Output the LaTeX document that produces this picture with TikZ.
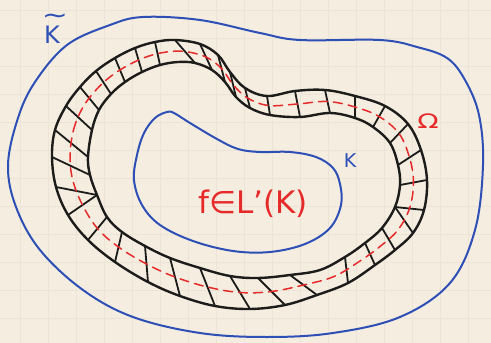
\documentclass[tikz,border=0pt]{standalone}
\usepackage{fontspec}
\setmainfont{DejaVu Sans}
\usetikzlibrary{calc}
\definecolor{paper}{HTML}{F4EDE0}
\definecolor{penblue}{HTML}{2E4FB5}
\definecolor{penred}{HTML}{E62A2A}
\definecolor{penblack}{HTML}{1C1C1A}
\definecolor{gridc}{HTML}{ECE4D6}
\begin{document}
\begin{tikzpicture}[x=1pt,y=-1pt,
  bluepen/.style={draw=penblue,line width=2pt,line join=round},
  blackpen/.style={draw=penblack,line width=2.4pt,line join=round},
  redpen/.style={draw=penred,line width=1.5pt,dash pattern=on 9pt off 6pt,line cap=round},
  hatchpen/.style={draw=penblack,line width=1.8pt,line cap=round},
  gridline/.style={draw=gridc,line width=0.5pt},
  lbl/.style={inner sep=0pt}]
\fill[paper] (0,0) rectangle (491,343);
\useasboundingbox (0,0) rectangle (491,343);
\foreach \x in {20,48,...,490} \draw[gridline] (\x,0) -- (\x,343);
\foreach \y in {10,38,...,343} \draw[gridline] (0,\y) -- (491,\y);

% band coordinates: outer (o), inner (i), middle (m)
\foreach \k/\ox/\oy/\ix/\iy in {
  1/52/157/88/157, 2/55/130/92/130, 3/66/106/99/110, 4/80/87/111/94,
  5/96/71/125/82, 6/115/58/142/72, 7/135/48/160/65, 8/155/42/178/62,
  9/175/40/195/63, 10/200/44/212/70, 11/218/55/225/82, 12/230/72/236/97,
  13/245/88/250/108, 14/267/96/270/115, 15/295/91/300/117, 16/325/90/330/113,
  17/355/96/355/118, 18/385/106/373/127, 19/408/124/390/143, 20/421/150/398/165,
  21/427/180/400/185, 22/424/210/395/207, 23/413/233/382/228, 24/395/250/365/243,
  25/375/265/345/257, 26/348/283/320/270, 27/317/295/290/275, 28/285/305/258/278,
  29/250/309/230/276, 30/215/306/200/268, 31/180/296/170/258, 32/148/282/145/246,
  33/115/262/122/232, 34/88/240/107/217, 35/68/215/97/195, 36/56/187/90/175}
{
  \coordinate (o\k) at (\ox,\oy);
  \coordinate (i\k) at (\ix,\iy);
  \coordinate (m\k) at ($(o\k)!0.5!(i\k)$);
}

% outer blue curve K~
\foreach \k/\x/\y in {1/8/165, 2/18/118, 3/35/82, 4/67/45, 5/110/25, 6/143/17,
  7/200/20, 8/260/33, 9/300/40, 10/380/40, 11/417/47, 12/447/58, 13/465/80,
  14/479/115, 15/483/165, 16/475/230, 17/450/283, 18/400/317, 19/333/333,
  20/267/337, 21/200/333, 22/133/317, 23/83/290, 24/40/250, 25/16/207}
  \coordinate (b\k) at (\x,\y);
\draw[bluepen] plot[smooth cycle, tension=0.6] coordinates {
  (b1) (b2) (b3) (b4) (b5) (b6) (b7) (b8) (b9) (b10) (b11) (b12) (b13)
  (b14) (b15) (b16) (b17) (b18) (b19) (b20) (b21) (b22) (b23) (b24) (b25)};

% inner blue curve K
\foreach \k/\x/\y in {1/167/112, 2/155/118, 3/144/133, 4/137/155, 5/134/180,
  6/142/205, 7/160/225, 8/193/241, 9/233/251, 10/270/252, 11/305/244,
  12/330/228, 13/341/205, 14/340/184, 15/333/168, 16/316/157, 17/290/152,
  18/260/152, 19/238/149, 20/217/139, 21/190/123, 22/174/113}
  \coordinate (c\k) at (\x,\y);
\draw[bluepen] plot[smooth cycle, tension=0.6] coordinates {
  (c1) (c2) (c3) (c4) (c5) (c6) (c7) (c8) (c9) (c10) (c11) (c12) (c13)
  (c14) (c15) (c16) (c17) (c18) (c19) (c20) (c21) (c22)};

% hatching
\foreach \a/\b in {1/36, 2/1, 3/2, 4/3, 5/4, 6/5, 7/6, 8/7, 9/9, 10/10, 11/11,
  12/12, 13/13, 14/14, 15/15, 16/16, 17/17, 18/18, 19/19, 20/20, 21/21, 22/22,
  23/22, 24/23, 25/24, 26/25, 27/27, 28/28, 29/29, 30/30, 31/31, 32/32, 33/33,
  34/34, 35/35, 36/35}
  \draw[hatchpen] (o\a) -- (i\b);

% red dashed middle curve
\draw[redpen] plot[smooth cycle, tension=0.6] coordinates {
  (m1) (m2) (m3) (m4) (m5) (m6) (m7) (m8) (m9) (m10) (m11) (m12) (m13) (m14)
  (m15) (m16) (m17) (m18) (m19) (m20) (m21) (m22) (m23) (m24) (m25) (m26)
  (m27) (m28) (m29) (m30) (m31) (m32) (m33) (m34) (m35) (m36)};

% band boundaries
\draw[blackpen] plot[smooth cycle, tension=0.6] coordinates {
  (o1) (o2) (o3) (o4) (o5) (o6) (o7) (o8) (o9) (o10) (o11) (o12) (o13) (o14)
  (o15) (o16) (o17) (o18) (o19) (o20) (o21) (o22) (o23) (o24) (o25) (o26)
  (o27) (o28) (o29) (o30) (o31) (o32) (o33) (o34) (o35) (o36)};
\draw[blackpen] plot[smooth cycle, tension=0.6] coordinates {
  (i1) (i2) (i3) (i4) (i5) (i6) (i7) (i8) (i9) (i10) (i11) (i12) (i13) (i14)
  (i15) (i16) (i17) (i18) (i19) (i20) (i21) (i22) (i23) (i24) (i25) (i26)
  (i27) (i28) (i29) (i30) (i31) (i32) (i33) (i34) (i35) (i36)};

% labels
\node[lbl,text=penblue,font=\fontsize{24}{24}\selectfont] (kbig) at (52,35) {K};
\node[lbl,text=penblue,font=\fontsize{24}{24}\selectfont,xscale=1.3] (tilde) at (55,19) {\textasciitilde};
\node[lbl,text=penred,font=\fontsize{20}{20}\selectfont,xscale=1.4] (omega) at (428,121) {Ω};
\node[lbl,text=penblue,font=\fontsize{19}{19}\selectfont] (kk) at (350,161) {K};
\node[lbl,text=penred,font=\fontsize{31}{31}\selectfont] (fl) at (253,204) {f∈L'(K)};
\end{tikzpicture}
\end{document}
